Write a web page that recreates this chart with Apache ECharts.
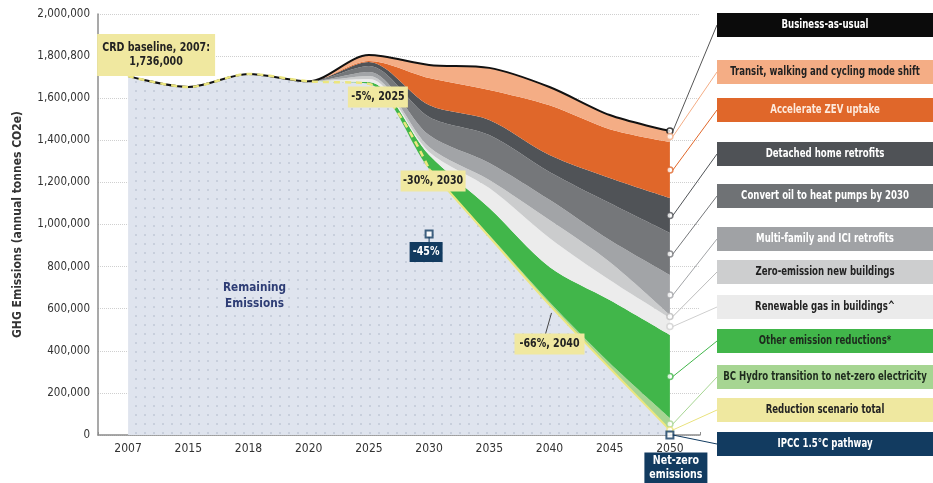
<!DOCTYPE html>
<html>
<head>
<meta charset="utf-8">
<script src="https://cdn.jsdelivr.net/npm/echarts@6/dist/echarts.min.js"></script>
<style>
html, body { margin: 0; padding: 0; background: #fff; }
#chart { width: 933px; height: 483px; }
</style>
</head>
<body>
<div id="chart"></div>
<script>
var years = ['2007', '2015', '2018', '2020', '2025', '2030', '2035', '2040', '2045', '2050'];
var yTicks = ['0', '200,000', '400,000', '600,000', '800,000', '1,000,000', '1,200,000', '1,400,000', '1,600,000', '1,800,800', '2,000,000'];

// annual tonnes CO2e, wedges listed bottom to top
var remaining = [1705000, 1653000, 1715000, 1680000, 1668000, 1264000, 941000, 618000, 318000, 24000];
var bcHydro   = [0, 0, 0, 0, 0, 0, 8000, 14000, 24000, 57000];
var otherRed  = [0, 0, 0, 0, 9000, 66000, 129000, 166000, 299000, 394000];
var renewGas  = [0, 0, 0, 0, 14000, 15000, 95000, 138000, 95000, 81000];
var zeroNew   = [0, 0, 0, 0, 14000, 23000, 38000, 85000, 86000, 14000];
var multiFam  = [0, 0, 0, 0, 20000, 57000, 81000, 96000, 104000, 190000];
var heatPumps = [0, 0, 0, 0, 28000, 86000, 133000, 133000, 176000, 200000];
var detached  = [0, 0, 0, 0, 19000, 57000, 72000, 80000, 119000, 166000];
var zev       = [0, 0, 0, 0, 5000, 128000, 142000, 236000, 232000, 266000];
var transit   = [0, 0, 0, 0, 28000, 62000, 105000, 87000, 67000, 52000];
var bau       = [1705000, 1653000, 1715000, 1680000, 1805000, 1758000, 1744000, 1653000, 1520000, 1444000];
// IPCC 1.5C pathway points: [year index, value]
var ipcc = [[5, 955000], [9, 0]];

var FONT = "'Liberation Sans Narrow', 'DejaVu Sans Condensed', 'Noto Sans', sans-serif";

var layers = [
    { name: 'Remaining Emissions', data: remaining, color: '#dfe4ee' },
    { name: 'BC Hydro transition to net-zero electricity', data: bcHydro, color: '#a6d592' },
    { name: 'Other emission reductions*', data: otherRed, color: '#41b64a' },
    { name: 'Renewable gas in buildings^', data: renewGas, color: '#ececec' },
    { name: 'Zero-emission new buildings', data: zeroNew, color: '#cbcccd' },
    { name: 'Multi-family and ICI retrofits', data: multiFam, color: '#a2a4a7' },
    { name: 'Convert oil to heat pumps by 2030', data: heatPumps, color: '#75777a' },
    { name: 'Detached home retrofits', data: detached, color: '#505357' },
    { name: 'Accelerate ZEV uptake', data: zev, color: '#e0672a' },
    { name: 'Transit, walking and cycling mode shift', data: transit, color: '#f4ad85' }
];

var series = layers.map(function (l, k) {
    var s = {
        name: l.name,
        type: 'line',
        stack: 'total',
        smooth: 0.3,
        symbol: 'none',
        data: l.data,
        lineStyle: { width: 0 },
        itemStyle: { color: l.color },
        areaStyle: { color: l.color, opacity: 1 },
        z: 2
    };
    if (k === 0) {
        s.itemStyle.decal = {
            symbol: 'rect', symbolSize: 1,
            dashArrayX: [1.5, 7], dashArrayY: [1.5, 7],
            color: 'rgba(150,160,180,0.3)'
        };
    }
    return s;
});

var dashedPart = remaining.map(function (v, i) { return i <= 5 ? v : '-' });
var solidPart = remaining.map(function (v, i) { return i >= 5 ? v : '-' });

series.push({
    name: 'Business-as-usual', type: 'line', smooth: 0.3, symbol: 'none',
    data: bau, lineStyle: { color: '#111', width: 2 }, z: 5
});
series.push({
    name: 'Reduction scenario total', type: 'line', smooth: 0.3, symbol: 'none',
    data: dashedPart, lineStyle: { color: '#ece67f', width: 2.5, type: [6, 5] }, z: 6
});
series.push({
    name: 'Reduction scenario total (after 2030)', type: 'line', smooth: 0.3, symbol: 'none',
    data: solidPart, lineStyle: { color: '#ece67f', width: 2 }, z: 6
});

// 2050 band midpoints for the callout markers
var last = years.length - 1;
var cum = [];
var acc = 0;
layers.forEach(function (l) { cum.push([acc, acc + l.data[last]]); acc += l.data[last] });
function mid (k) { return (cum[k][0] + cum[k][1]) / 2 }

var legendItems = [
    { name: 'Business-as-usual', fill: '#0b0b0b', text: '#fff', line: '#555', dot: '#111', at: bau[last] },
    { name: 'Transit, walking and cycling mode shift', fill: '#f4ad85', text: '#222', line: '#f4ad85', at: mid(9) },
    { name: 'Accelerate ZEV uptake', fill: '#e0672a', text: '#fde9dc', line: '#e0672a', at: mid(8) },
    { name: 'Detached home retrofits', fill: '#4f5256', text: '#fff', line: '#505357', at: mid(7) },
    { name: 'Convert oil to heat pumps by 2030', fill: '#6f7275', text: '#fff', line: '#75777a', at: mid(6) },
    { name: 'Multi-family and ICI retrofits', fill: '#a0a2a5', text: '#fff', line: '#a2a4a7', at: mid(5) },
    { name: 'Zero-emission new buildings', fill: '#cdcecf', text: '#222', line: '#bcbcbc', at: mid(4) },
    { name: 'Renewable gas in buildings^', fill: '#ebebeb', text: '#222', line: '#cfcfcf', at: mid(3) },
    { name: 'Other emission reductions*', fill: '#41b64a', text: '#1d2a1d', line: '#41b64a', at: mid(2) },
    { name: 'BC Hydro transition to net-zero electricity', fill: '#a6d592', text: '#1d2a1d', line: '#a6d592', at: mid(1) },
    { name: 'Reduction scenario total', fill: '#efe8a0', text: '#222', line: '#e9e27d', at: remaining[last] },
    { name: 'IPCC 1.5\u00b0C pathway', fill: '#123b60', text: '#fff', line: '#123b60', at: 0 }
];

series.push({
    name: 'markers', type: 'scatter', symbol: 'circle', symbolSize: 6, z: 8,
    data: legendItems.slice(0, 11).map(function (it) {
        return { value: [last, it.at], itemStyle: { color: '#fff', borderColor: it.dot || it.line, borderWidth: 1.5 } };
    })
});
series.push({
    name: 'IPCC 1.5\u00b0C pathway', type: 'scatter', symbol: 'rect', symbolSize: 7, z: 9,
    data: ipcc,
    itemStyle: { color: '#fff', borderColor: '#123b60', borderWidth: 2 }
});

var chart = echarts.init(document.getElementById('chart'));
chart.setOption({
    animation: false,
    textStyle: { fontFamily: FONT },
    grid: { left: 98, right: 233, top: 14, bottom: 48, containLabel: false },
    xAxis: {
        type: 'category', data: years, boundaryGap: true,
        axisLine: { show: true, lineStyle: { color: '#8c8c8c', width: 1.5 } },
        axisTick: { show: true, inside: true, length: 3, lineStyle: { color: '#8c8c8c' } },
        axisLabel: { color: '#333', fontSize: 12, margin: 8, fontFamily: FONT },
        splitLine: { show: false }
    },
    yAxis: {
        type: 'value', min: 0, max: 2000000, interval: 200000,
        name: 'GHG Emissions (annual tonnes CO2e)',
        nameLocation: 'middle', nameGap: 74,
        nameTextStyle: { fontWeight: 'bold', fontSize: 12, color: '#333', fontFamily: FONT },
        axisLine: { show: true, lineStyle: { color: '#8c8c8c', width: 1.5 } },
        axisTick: { show: false },
        axisLabel: {
            formatter: function (v) { return yTicks[Math.round(v / 200000)] },
            color: '#333', fontSize: 11.5, margin: 8, fontFamily: FONT
        },
        splitLine: { lineStyle: { color: '#cfcfcf', type: 'dotted' } }
    },
    series: series
});

// annotations, legend boxes and callout lines
var g = [];
function px (x, v) { return chart.convertToPixel({ gridIndex: 0 }, [x, v]) }
function box (cx, cy, w, h, fill, text, color, size, sx) {
    g.push({ type: 'rect', z: 100, shape: { x: cx - w / 2, y: cy - h / 2, width: w, height: h }, style: { fill: fill } });
    g.push({
        type: 'text', z: 101, x: cx, y: cy, scaleX: sx || 0.88,
        style: { text: text, fill: color, font: 'bold ' + (size || 12) + 'px ' + FONT, align: 'center', verticalAlign: 'middle', lineHeight: 14 }
    });
}
function line (a, b, color) {
    g.push({ type: 'line', z: 99, shape: { x1: a[0], y1: a[1], x2: b[0], y2: b[1] }, style: { stroke: color, lineWidth: 1 } });
}

var boxTops = [13, 60, 98, 142, 184, 227, 260, 295, 329, 365, 398, 432];
legendItems.forEach(function (it, i) {
    var h = 24;
    var cy = boxTops[i] + h / 2;
    var p = px(last, it.at);
    line([p[0] + 3, p[1]], [717, cy], it.line);
    box(717 + 108, cy, 216, h, it.fill, it.name, it.text, 11.5, 0.83);
});

var ylw = '#f0e8a0';
var navy = '#123b60';
var p0 = px(0, remaining[0]);
box(p0[0] + 28, p0[1] - 21, 118, 42, ylw, 'CRD baseline, 2007:\n1,736,000', '#222', 12);
var p4 = px(4, remaining[4]);
box(p4[0] + 9, p4[1] + 13, 60, 21, ylw, '-5%, 2025', '#222', 12);
var p5 = px(5, remaining[5]);
box(p5[0] + 4, p5[1] + 12, 65, 21, ylw, '-30%, 2030', '#222', 12);
var q0 = px(ipcc[0][0], ipcc[0][1]);
line([q0[0], q0[1] + 3], [q0[0], q0[1] + 9], navy);
box(q0[0] - 3, q0[1] + 18, 33, 20, navy, '-45%', '#fff', 12);
var p7 = px(7, remaining[7]);
line([p7[0] - 4, p7[1] + 29], [p7[0] + 2, p7[1] + 8], '#444');
box(p7[0], p7[1] + 39, 70, 21, ylw, '-66%, 2040', '#222', 12);
var q1 = px(ipcc[1][0], ipcc[1][1]);
box(q1[0] + 6, q1[1] + 33, 63, 31, navy, 'Net-zero\nemissions', '#fff', 12);

var r = px(2.1, 660000);
g.push({
    type: 'text', z: 101, x: r[0] + 6, y: r[1], scaleX: 0.9,
    style: { text: 'Remaining\nEmissions', fill: '#2e3d75', font: 'bold 13px ' + FONT, align: 'center', verticalAlign: 'middle', lineHeight: 16 }
});

chart.setOption({ graphic: g });
</script>
</body>
</html>
